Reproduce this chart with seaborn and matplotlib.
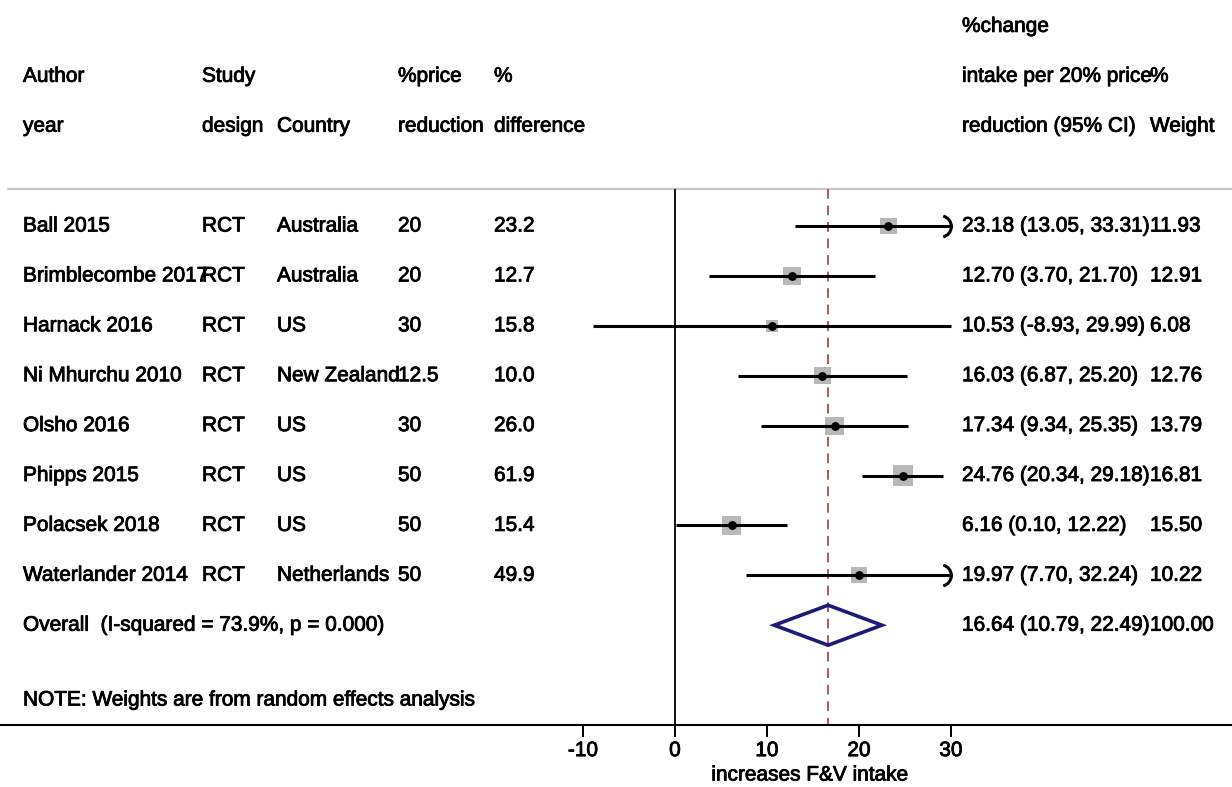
import numpy as np
import pandas as pd
import matplotlib
matplotlib.use("Agg")
import matplotlib.pyplot as plt
import matplotlib.patheffects as pe
from matplotlib.path import Path
import seaborn as sns

# ---- study data -------------------------------------------------------------
authors = ["Ball 2015", "Brimblecombe 2017", "Harnack 2016", "Ni Mhurchu 2010",
           "Olsho 2016", "Phipps 2015", "Polacsek 2018", "Waterlander 2014"]
designs = ["RCT", "RCT", "RCT", "RCT", "RCT", "RCT", "RCT", "RCT"]
countries = ["Australia", "Australia", "US", "New Zealand", "US", "US", "US",
             "Netherlands"]
price_reduction = ["20", "20", "30", "12.5", "30", "50", "50", "50"]
pct_difference = [23.2, 12.7, 15.8, 10.0, 26.0, 61.9, 15.4, 49.9]
effect = [23.18, 12.70, 10.53, 16.03, 17.34, 24.76, 6.16, 19.97]
ci_low = [13.05, 3.70, -8.93, 6.87, 9.34, 20.34, 0.10, 7.70]
ci_high = [33.31, 21.70, 29.99, 25.20, 25.35, 29.18, 12.22, 32.24]
weights = [11.93, 12.91, 6.08, 12.76, 13.79, 16.81, 15.50, 10.22]

overall_effect = 16.64
overall_low = 10.79
overall_high = 22.49
overall_weight = 100.00
overall_label = "Overall  (I-squared = 73.9%, p = 0.000)"
note_label = "NOTE: Weights are from random effects analysis"

x_ticks = [-10, 0, 10, 20, 30]
x_title = "increases F&V intake"

header_left = [["Author", "year"], ["Study", "design"], ["", "Country"],
               ["%price", "reduction"], ["%", "difference"]]
header_ci = ["%change", "intake per 20% price", "reduction (95% CI)"]
header_wt = ["", "%", "Weight"]

# ---- styling ----------------------------------------------------------------
sns.set_theme(style="white")
plt.rcParams["font.family"] = ["Liberation Sans", "DejaVu Sans"]
FS = 15
heavy = [pe.withStroke(linewidth=0.6, foreground="black")]

df = pd.DataFrame({"row": np.arange(len(authors)), "effect": effect,
                   "low": ci_low, "high": ci_high, "weight": weights})
n = len(df)
clip_hi = max(x_ticks)
clip_lo = min(x_ticks)

fig = plt.figure(figsize=(12.32, 7.87), dpi=100)
ax = fig.add_axes([0, 62 / 787, 1, 725 / 787])
px_per_unit = 9.2
row_px = 49.9
ax.set_xlim(-675 / px_per_unit, (1232 - 675) / px_per_unit)
ax.set_ylim((725 - 226) / row_px, -226 / row_px)
ax.patch.set_alpha(0)

sep_row = (189 - 226) / row_px
y_bottom = (725 - 226) / row_px
ax.axhline(sep_row, xmin=8 / 1232, xmax=1, color="#c8c8c8", lw=1.6)

# null line and pooled-estimate line
ax.vlines(0, sep_row, y_bottom, color="black", lw=1.3)
ax.vlines(overall_effect, sep_row, y_bottom, color="#b5555e", lw=1.4,
          linestyles=(0, (5, 3.5)))

# weight boxes (area proportional to weight)
k = 12.45
sns.scatterplot(data=df, x="effect", y="row", size="weight",
                sizes=(k * df.weight.min(), k * df.weight.max()),
                marker="s", color="#b8b8b8", linewidth=0, legend=False,
                ax=ax, zorder=2)

# confidence intervals, clipped to the axis range
lo_draw = np.clip(df.low, clip_lo, clip_hi)
hi_draw = np.clip(df.high, clip_lo, clip_hi)
ax.hlines(df.row, lo_draw, hi_draw, color="black", lw=2.2, zorder=3)

# open arrow head for intervals running past the axis range
arrow_path = Path([(-0.6, 1.0), (0.1, 0.8), (0.2, 0.0),
                   (0.1, -0.8), (-0.6, -1.0)],
                  [Path.MOVETO, Path.CURVE3, Path.CURVE3,
                   Path.CURVE3, Path.CURVE3])
clipped = df[df.high > clip_hi]
ax.plot(np.full(len(clipped), clip_hi) - 0.2, clipped.row, linestyle="none",
        marker=arrow_path, markersize=15, markerfacecolor="none",
        markeredgecolor="black", markeredgewidth=2.2, zorder=4)

# point estimates
sns.scatterplot(data=df, x="effect", y="row", marker="o", s=40,
                color="black", linewidth=0, legend=False, ax=ax, zorder=5)

# pooled diamond
ov_row = n
h = 20 / row_px
ax.fill([overall_low, overall_effect, overall_high, overall_effect],
        [ov_row, ov_row - h, ov_row, ov_row + h],
        facecolor="none", edgecolor="#1c1c78", lw=2.6, zorder=4)

# ---- axis -----------------------------------------------------------------------
for s in ["top", "left", "right"]:
    ax.spines[s].set_visible(False)
ax.spines["bottom"].set_color("black")
ax.spines["bottom"].set_linewidth(1.5)
ax.set_yticks([])
ax.set_ylabel("")
ax.set_xticks(x_ticks)
ax.set_xticklabels([f"{t:d}" for t in x_ticks])
ax.tick_params(axis="x", bottom=True, direction="out", length=8.6, width=1.4,
               pad=3, labelsize=FS, colors="black")
for lbl in ax.get_xticklabels():
    lbl.set_path_effects(heavy)
ax.set_xlabel(x_title, fontsize=FS, color="black", va="center",
              path_effects=heavy)
ax.xaxis.set_label_coords(810 / 1232, -0.069)

# ---- text columns -------------------------------------------------------------
tr = ax.get_yaxis_transform()
left_cols = [23, 202, 277, 398, 494]
ci_col = 962
wt_col = 1150


def put(xpx, row, s):
    ax.text(xpx / 1232, row, s, transform=tr, ha="left", va="center",
            fontsize=FS, color="black", path_effects=heavy)


for c, (top, bottom) in zip(left_cols, header_left):
    put(c, -3, top)
    put(c, -2, bottom)
for i, s in enumerate(header_ci):
    put(ci_col, -4 + i, s)
for i, s in enumerate(header_wt):
    put(wt_col, -4 + i, s)

for i in range(n):
    put(left_cols[0], i, authors[i])
    put(left_cols[1], i, designs[i])
    put(left_cols[2], i, countries[i])
    put(left_cols[3], i, price_reduction[i])
    put(left_cols[4], i, f"{pct_difference[i]:.1f}")
    put(ci_col, i, f"{effect[i]:.2f} ({ci_low[i]:.2f}, {ci_high[i]:.2f})")
    put(wt_col, i, f"{weights[i]:.2f}")

put(left_cols[0], ov_row, overall_label)
put(ci_col, ov_row,
    f"{overall_effect:.2f} ({overall_low:.2f}, {overall_high:.2f})")
put(wt_col, ov_row, f"{overall_weight:.2f}")
put(left_cols[0], (700 - 226) / row_px, note_label)

fig.savefig("out.png", dpi=100, facecolor="white")
